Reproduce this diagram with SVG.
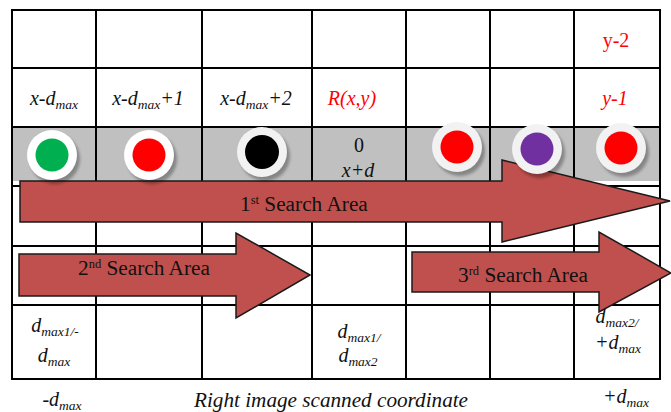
<svg xmlns="http://www.w3.org/2000/svg" width="671" height="412" viewBox="0 0 671 412">
  <style>
    .grid { stroke: #000; stroke-width: 2; fill: none; }
    .band { fill: #C0C0C0; }
    .arrow { fill: #C0504D; stroke: #1a1a1a; stroke-width: 1.5; stroke-linejoin: miter; }
    .t { font-family: "Liberation Serif", "Times New Roman", serif; font-size: 20px; fill: #111; }
    .big { font-size: 21.3px; }
    .axis { font-size: 21.2px; }
    .i { font-style: italic; }
    .red { fill: #FF0000; }
    .sub { font-size: 13.5px; }
    .sup { font-size: 12.5px; }
    .ring { fill: #F2F2F2; }
    .ringw { fill: #FFFFFF; }
    .shadow { fill: #000; opacity: 0.3; }
  </style>
  <defs>
    <filter id="soft" x="-30%" y="-30%" width="160%" height="160%">
      <feGaussianBlur stdDeviation="1.5"/>
    </filter>
  </defs>

  <rect width="671" height="412" fill="#FFFFFF"/>

  <!-- shaded pixel row -->
  <rect class="band" x="12" y="127" width="648" height="54"/>

  <!-- grid -->
  <g id="grid" class="grid">
    <rect x="12" y="10" width="648" height="369"/>
    <line x1="12" y1="68" x2="660" y2="68"/>
    <line x1="12" y1="127" x2="660" y2="127"/>
    <line x1="12" y1="186" x2="660" y2="186"/>
    <line x1="12" y1="246" x2="660" y2="246"/>
    <line x1="12" y1="305" x2="660" y2="305"/>
    <line x1="96" y1="10" x2="96" y2="379"/>
    <line x1="202" y1="10" x2="202" y2="379"/>
    <line x1="312" y1="10" x2="312" y2="379"/>
    <line x1="406" y1="10" x2="406" y2="379"/>
    <line x1="490" y1="10" x2="490" y2="379"/>
    <line x1="574" y1="10" x2="574" y2="379"/>
  </g>

  <!-- row labels -->
  <g id="labels">
    <text class="t red" x="616" y="47" text-anchor="middle">y-2</text>
    <text class="t i" x="54" y="105" text-anchor="middle">x-d<tspan class="sub" dy="4">max</tspan></text>
    <text class="t i" x="148" y="105" text-anchor="middle">x-d<tspan class="sub" dy="4">max</tspan><tspan dy="-4">+1</tspan></text>
    <text class="t i" x="256" y="105" text-anchor="middle">x-d<tspan class="sub" dy="4">max</tspan><tspan dy="-4">+2</tspan></text>
    <text class="t i red" x="352" y="105" text-anchor="middle">R(x,y)</text>
    <text class="t i red" x="615" y="105" text-anchor="middle">y-1</text>
    <text class="t" x="359" y="152" text-anchor="middle">0</text>
    <text class="t i" x="358" y="177" text-anchor="middle">x+d</text>
  </g>

  <!-- search areas -->
  <g id="connectors">
    <g id="search1">
      <path class="arrow" d="M20,181 H502 V160 L670,201 L502,242 V222 H20 Z"/>
      <text class="t big" x="240" y="211">1<tspan class="sup" dy="-7">st</tspan><tspan dy="7"> Search Area</tspan></text>
    </g>
    <g id="search2">
      <path class="arrow" d="M19,254 H236 V233 L310,275 L236,318 V296 H19 Z"/>
      <text class="t big" x="78" y="275">2<tspan class="sup" dy="-7">nd</tspan><tspan dy="7"> Search Area</tspan></text>
    </g>
    <g id="search3">
      <path class="arrow" d="M412,252 H599 V232 L671,273 L599,312 V292 H412 Z"/>
      <text class="t big" x="458" y="282">3<tspan class="sup" dy="-7">rd</tspan><tspan dy="7"> Search Area</tspan></text>
    </g>
  </g>

  <!-- pixel markers -->
  <g id="px-green">
    <circle class="shadow" cx="55" cy="159" r="25" filter="url(#soft)"/>
    <circle class="ringw" cx="52" cy="155" r="25"/>
    <circle cx="52" cy="155" r="16.5" fill="#00B050"/>
  </g>
  <g id="px-red1">
    <circle class="shadow" cx="152" cy="159" r="25" filter="url(#soft)"/>
    <circle class="ringw" cx="149" cy="155" r="25"/>
    <circle cx="149" cy="155" r="16.5" fill="#FF0000"/>
  </g>
  <g id="px-black">
    <circle class="shadow" cx="265" cy="156" r="25" filter="url(#soft)"/>
    <circle class="ring" cx="262" cy="152" r="25"/>
    <circle cx="262" cy="152" r="17" fill="#000000"/>
  </g>
  <g id="px-red2">
    <circle class="shadow" cx="460" cy="151" r="25" filter="url(#soft)"/>
    <circle class="ring" cx="457" cy="147" r="25"/>
    <circle cx="457" cy="147" r="16.5" fill="#FF0000"/>
  </g>
  <g id="px-purple">
    <circle class="shadow" cx="540" cy="153" r="25" filter="url(#soft)"/>
    <circle class="ring" cx="537" cy="149" r="25"/>
    <circle cx="537" cy="149" r="16.5" fill="#7030A0"/>
  </g>
  <g id="px-red3">
    <circle class="shadow" cx="624" cy="152" r="25" filter="url(#soft)"/>
    <circle class="ring" cx="621" cy="148" r="25"/>
    <circle cx="621" cy="148" r="16.5" fill="#FF0000"/>
  </g>

  <!-- disparity labels -->
  <g id="bottom">
    <text class="t i" x="55" y="332" text-anchor="middle">d<tspan class="sub" dy="4">max1/-</tspan></text>
    <text class="t i" x="54" y="362" text-anchor="middle">d<tspan class="sub" dy="4">max</tspan></text>
    <text class="t i" x="359" y="338" text-anchor="middle">d<tspan class="sub" dy="4">max1/</tspan></text>
    <text class="t i" x="358" y="362" text-anchor="middle">d<tspan class="sub" dy="4">max2</tspan></text>
    <text class="t i" x="617" y="323" text-anchor="middle">d<tspan class="sub" dy="4">max2/</tspan></text>
    <text class="t i" x="618" y="349" text-anchor="middle">+d<tspan class="sub" dy="4">max</tspan></text>
    <text class="t i" x="62" y="406" text-anchor="middle">-d<tspan class="sub" dy="4">max</tspan></text>
    <text class="t i" x="626" y="403" text-anchor="middle">+d<tspan class="sub" dy="4">max</tspan></text>
    <text class="t i axis" x="194" y="407">Right image scanned coordinate</text>
  </g>
</svg>
